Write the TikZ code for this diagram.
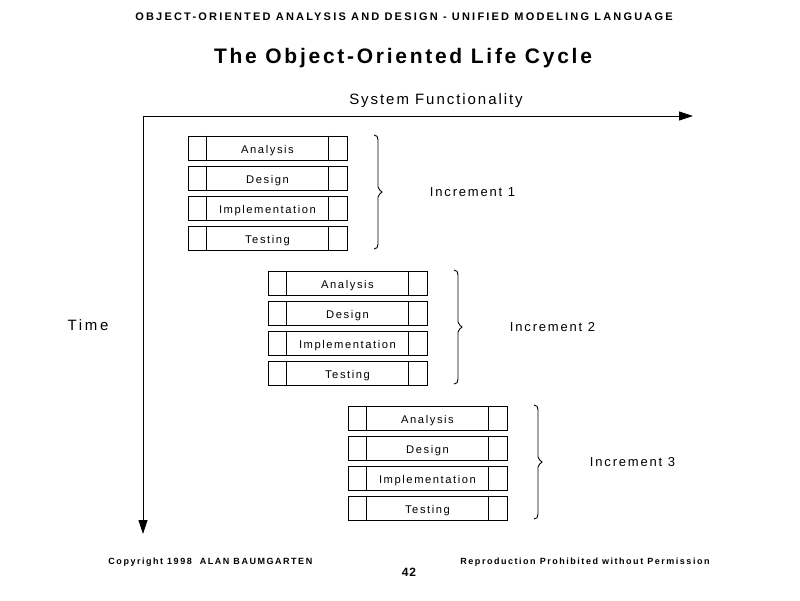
\documentclass[tikz,border=0pt]{standalone}
\usepackage{fontspec}
\setmainfont{Liberation Sans}
\usetikzlibrary{arrows.meta}
\newcommand\lsfont[2]{\fontsize{#1}{#1}\selectfont\addfontfeature{LetterSpace=#2}}
\begin{document}
\begin{tikzpicture}[x=1pt,y=-1pt,line width=0.9pt,
  phase/.style={draw, minimum width=159pt, minimum height=24pt, inner sep=0pt, text height=10pt, text depth=0pt, font=\lsfont{11.2}{14}},
  inclabel/.style={inner sep=0pt, font=\lsfont{13}{14}},
  axislabel/.style={inner sep=0pt, font=\lsfont{15}{13}},
  axisarrow/.style={-{Triangle[length=14pt,width=9pt]}},
  footer/.style={inner sep=0pt, font=\bfseries\lsfont{9}{17}}]
\useasboundingbox (0,0) rectangle (800,600);
% header and title
\node[inner sep=0pt, font=\bfseries\lsfont{11}{20}] (hdr) at (404,17) {OBJECT-ORIENTED ANALYSIS AND DESIGN - UNIFIED MODELING LANGUAGE};
\node[inner sep=0pt, font=\bfseries\lsfont{21}{13}] (title) at (403,58.5) {The Object-Oriented Life Cycle};
% axes
\coordinate (O) at (143,116);
\coordinate (X) at (693,116);
\coordinate (Y) at (143,534);
\draw[axisarrow] (O) -- (X);
\draw[axisarrow] (O) -- (Y);
\node[axislabel] (sf) at (436,100.5) {System Functionality};
\node[inner sep=0pt, font=\lsfont{15}{18}] (time) at (88,325) {Time};
% increments
\foreach \k/\n in {0/1,1/2,2/3}{
  \foreach \r/\t in {0/Analysis,1/Design,2/Implementation,3/Testing}{
    \node[phase] (b\n\r) at ({267.5+80*\k},{148+135*\k+30*\r}) {\t};
    \draw ([xshift=19pt]b\n\r.north west) -- ([xshift=19pt]b\n\r.south west);
    \draw ([xshift=-19pt]b\n\r.north east) -- ([xshift=-19pt]b\n\r.south east);
  }
  \coordinate (bt\n) at ({378+80*\k},{136+135*\k});
  \draw (bt\n) ++(-4,-1) .. controls +(3,0) and +(0,-3) .. ++(4,5)
     -- ++(0,47) .. controls +(0,3) and +(-1,-2) .. ++(4,5)
     .. controls +(-1,2) and +(0,-3) .. ++(-4,5)
     -- ++(0,47) .. controls +(0,3) and +(3,0) .. ++(-4,5);
  \node[inclabel] (inc\n) at ({472.5+80*\k},{192+135*\k}) {Increment \n};
}
% footer
\node[footer, anchor=west] (copy) at (108,562.5) {Copyright 1998\ \ ALAN BAUMGARTEN};
\node[footer, anchor=east] (repro) at (710,562.5) {Reproduction Prohibited without Permission};
\node[inner sep=0pt, font=\bfseries\lsfont{12}{8}] (page) at (409,572.5) {42};
\end{tikzpicture}
\end{document}
